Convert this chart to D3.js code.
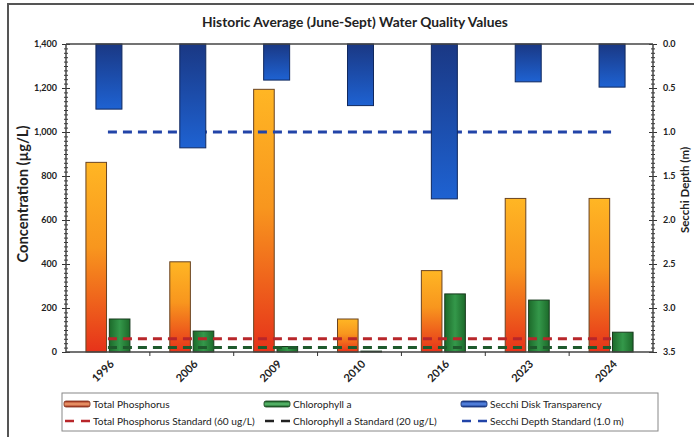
<!DOCTYPE html>
<html>
<head>
<meta charset="utf-8">
<script src="https://cdn.jsdelivr.net/npm/d3@7"></script>
<style>
  html, body { margin: 0; padding: 0; background: #fff; }
  svg { display: block; font-family: Lato, "Open Sans", sans-serif; }
</style>
</head>
<body>
<svg id="chart" width="694" height="437"></svg>
<script>
// ---- data ----
const categories = ["1996", "2006", "2009", "2010", "2016", "2023", "2024"];
const totalPhosphorus = [862, 410, 1194, 150, 370, 698, 698];   // µg/L
const chlorophyllA = [150, 95, 25, 4, 264, 236, 90];            // µg/L
const secchiDepth = [0.74, 1.18, 0.41, 0.70, 1.76, 0.43, 0.49];  // m
const tpStandard = 60;
const chlStandard = 20;
const secchiStandard = 1.0;
const leftTicks = [0, 200, 400, 600, 800, 1000, 1200, 1400];
const rightTicks = [0, 0.5, 1.0, 1.5, 2.0, 2.5, 3.0, 3.5];
const titleText = "Historic Average (June-Sept) Water Quality Values";
const leftTitle = "Concentration (\u00b5g/L)";
const rightTitle = "Secchi Depth (m)";
const legendRow1 = ["Total Phosphorus", "Chlorophyll a", "Secchi Disk Transparency"];
const legendRow2 = ["Total Phosphorus Standard (60 ug/L)", "Chlorophyll a Standard (20 ug/L)", "Secchi Depth Standard (1.0 m)"];

// ---- layout ----
const svg = d3.select("#chart");
const P = { left: 66, right: 653, top: 44, bottom: 352 };

const x = d3.scaleBand().domain(categories).range([P.left, P.right]).padding(0);
const yL = d3.scaleLinear().domain([0, 1400]).range([P.bottom, P.top]);
const yR = d3.scaleLinear().domain([0, 3.5]).range([P.top, P.bottom]);
const sub = d3.scaleBand().domain(["tp", "chl"]).range([-22, 22]).paddingInner(0.12);
const secW = x.bandwidth() * 0.31;

// ---- defs ----
const defs = svg.append("defs");
function grad(id, vertical, stops) {
  const g = defs.append("linearGradient").attr("id", id)
    .attr("x1", 0).attr("y1", 0).attr("x2", vertical ? 0 : 1).attr("y2", vertical ? 1 : 0);
  stops.forEach(s => g.append("stop").attr("offset", s[0]).attr("stop-color", s[1]));
}
grad("tpGrad", true, [[0, "#FFB624"], [0.45, "#F8961E"], [1, "#E6321A"]]);
grad("chlGrad", false, [[0, "#1C6A2A"], [0.5, "#34984A"], [1, "#1C6A2A"]]);
grad("secGrad", true, [[0, "#1A3884"], [1, "#1E62D2"]]);
grad("tpSw", true, [[0, "#A0301C"], [0.5, "#F2A070"], [1, "#A0301C"]]);
grad("chlSw", true, [[0, "#1A5A24"], [0.5, "#5CC070"], [1, "#1A5A24"]]);
grad("secSw", true, [[0, "#183A8A"], [0.5, "#5A8AE8"], [1, "#183A8A"]]);

// outer chart frame
svg.append("rect").attr("x", 8).attr("y", 4).attr("width", 720).attr("height", 460)
  .attr("fill", "none").attr("stroke", "#555").attr("stroke-width", 2);

function fit(sel, target) {
  const len = sel.node().getComputedTextLength();
  const fs = parseFloat(sel.attr("font-size"));
  sel.attr("font-size", (fs * target / len).toFixed(2));
  return fs * target / len;
}

// title
const t = svg.append("text").attr("x", 355).attr("y", 27).attr("text-anchor", "middle")
  .attr("font-size", 13).attr("font-weight", "bold").attr("fill", "#222").text(titleText);
fit(t, 306);

// ---- primary bars ----
const gBars = svg.append("g");
gBars.selectAll("rect.tp").data(categories).join("rect")
  .attr("x", (d) => x(d) + x.bandwidth() / 2 + sub("tp"))
  .attr("width", sub.bandwidth())
  .attr("y", (d, i) => yL(totalPhosphorus[i]))
  .attr("height", (d, i) => yL(0) - yL(totalPhosphorus[i]))
  .attr("fill", "url(#tpGrad)").attr("stroke", "#6A4422").attr("stroke-width", 1);
gBars.selectAll("rect.chl").data(categories).join("rect")
  .attr("x", (d) => x(d) + x.bandwidth() / 2 + sub("chl"))
  .attr("width", sub.bandwidth())
  .attr("y", (d, i) => yL(chlorophyllA[i]))
  .attr("height", (d, i) => yL(0) - yL(chlorophyllA[i]))
  .attr("fill", "url(#chlGrad)").attr("stroke", "#173A1C").attr("stroke-width", 1);

// ---- standard lines ----
const line = d3.line().x(d => d[0]).y(d => d[1]);
function stdLine(val, scale, color) {
  svg.append("path")
    .attr("d", line(categories.map(c => [x(c) + x.bandwidth() / 2, scale(val)])))
    .attr("fill", "none").attr("stroke", color).attr("stroke-width", 3)
    .attr("stroke-dasharray", "9,6");
}
stdLine(tpStandard, yL, "#B8262A");
stdLine(chlStandard, yL, "#1E5A2C");
stdLine(secchiStandard, yR, "#2244A8");

// ---- secondary bars (Secchi) ----
svg.append("g").selectAll("rect").data(categories).join("rect")
  .attr("x", d => x(d) + x.bandwidth() / 2 - secW / 2 + 1)
  .attr("width", secW)
  .attr("y", yR(0))
  .attr("height", (d, i) => yR(secchiDepth[i]) - yR(0))
  .attr("fill", "url(#secGrad)").attr("stroke", "#10285E").attr("stroke-width", 1);

// ---- axes ----
const axisColor = "#333";
function styleAxis(g) {
  g.select(".domain").remove();
  g.selectAll(".tick line").attr("stroke", axisColor);
  g.selectAll(".tick text").attr("fill", "#222").attr("font-weight", "bold")
    .attr("font-size", 9).attr("font-family", "Lato, sans-serif");
}
const minorL = d3.range(0, 1401, 20);
const minorR = d3.range(0, 3.501, 0.05);

// left axis
svg.append("g").attr("transform", `translate(${P.left},0)`)
  .call(d3.axisLeft(yL).tickValues(minorL).tickSize(2).tickFormat(""))
  .call(styleAxis);
svg.append("g").attr("transform", `translate(${P.left},0)`)
  .call(d3.axisRight(yL).tickValues(minorL).tickSize(2).tickFormat(""))
  .call(styleAxis);
svg.append("g").attr("transform", `translate(${P.left},0)`)
  .call(d3.axisRight(yL).tickValues(leftTicks).tickSize(4).tickFormat(""))
  .call(styleAxis);
svg.append("g").attr("transform", `translate(${P.left},0)`)
  .call(d3.axisLeft(yL).tickValues(leftTicks).tickSize(4).tickPadding(5).tickFormat(d3.format(",")))
  .call(styleAxis);

// right axis
svg.append("g").attr("transform", `translate(${P.right},0)`)
  .call(d3.axisLeft(yR).tickValues(minorR).tickSize(2).tickFormat(""))
  .call(styleAxis);
svg.append("g").attr("transform", `translate(${P.right},0)`)
  .call(d3.axisRight(yR).tickValues(minorR).tickSize(2).tickFormat(""))
  .call(styleAxis);
svg.append("g").attr("transform", `translate(${P.right},0)`)
  .call(d3.axisLeft(yR).tickValues(rightTicks).tickSize(4).tickFormat(""))
  .call(styleAxis);
svg.append("g").attr("transform", `translate(${P.right},0)`)
  .call(d3.axisRight(yR).tickValues(rightTicks).tickSize(4).tickPadding(6).tickFormat(d3.format(".1f")))
  .call(styleAxis);

// frame lines of plot area
svg.append("line").attr("x1", P.left).attr("x2", P.right).attr("y1", P.top).attr("y2", P.top)
  .attr("stroke", "#444").attr("stroke-width", 1.5);
svg.append("line").attr("x1", P.left).attr("x2", P.left).attr("y1", P.top).attr("y2", P.bottom)
  .attr("stroke", "#444").attr("stroke-width", 1.5);
svg.append("line").attr("x1", P.right).attr("x2", P.right).attr("y1", P.top).attr("y2", P.bottom)
  .attr("stroke", "#444").attr("stroke-width", 1.5);

// x axis
const xb = svg.append("g").attr("transform", `translate(0,${P.bottom})`);
xb.append("line").attr("x1", P.left).attr("x2", P.right).attr("stroke", "#444").attr("stroke-width", 1.5);
xb.selectAll("line.tk").data(categories.slice(1)).join("line")
  .attr("x1", d => x(d)).attr("x2", d => x(d)).attr("y1", 0).attr("y2", 4).attr("stroke", axisColor);
xb.selectAll("text").data(categories).join("text")
  .attr("transform", d => `translate(${x(d) + x.bandwidth() / 2 + 4},${10}) rotate(-45)`)
  .attr("text-anchor", "end").attr("dy", "0.35em")
  .attr("font-size", 11).attr("font-weight", "bold").attr("fill", "#222")
  .text(d => d);

// axis titles
const lt = svg.append("text").attr("transform", "translate(28,194) rotate(-90)")
  .attr("text-anchor", "middle").attr("font-size", 13).attr("font-weight", "bold")
  .attr("fill", "#222").text(leftTitle);
fit(lt, 137);
svg.append("text").attr("transform", "translate(689,190) rotate(-90)")
  .attr("text-anchor", "middle").attr("font-size", 11.5).attr("font-weight", "bold")
  .attr("fill", "#222").text(rightTitle);

// ---- legend ----
const lg = svg.append("g");
lg.append("rect").attr("x", 62).attr("y", 393).attr("width", 596).attr("height", 38)
  .attr("fill", "#fff").attr("stroke", "#888").attr("stroke-width", 1);
const colX = [64, 264, 461];
const swFill = ["url(#tpSw)", "url(#chlSw)", "url(#secSw)"];
const swStroke = ["#7A2A14", "#123A18", "#102A6A"];
const dashColor = ["#B8262A", "#222", "#2244A8"];
lg.selectAll("rect.sw").data(legendRow1).join("rect")
  .attr("x", (d, i) => colX[i]).attr("y", 401).attr("width", 26).attr("height", 6).attr("rx", 2)
  .attr("fill", (d, i) => swFill[i]).attr("stroke", (d, i) => swStroke[i]).attr("stroke-width", 0.8);
lg.selectAll("line.dl").data(legendRow2).join("line")
  .attr("x1", (d, i) => colX[i] + 1).attr("x2", (d, i) => colX[i] + 26)
  .attr("y1", 421).attr("y2", 421)
  .attr("stroke", (d, i) => dashColor[i]).attr("stroke-width", 2.5).attr("stroke-dasharray", "9,7");
const r2 = lg.selectAll("text.r2").data(legendRow2).join("text")
  .attr("x", (d, i) => colX[i] + 29).attr("y", 424.5)
  .attr("font-size", 9).attr("fill", "#222").text(d => d);
const lfs = fit(d3.select(r2.nodes()[0]), 162);
r2.attr("font-size", lfs);
lg.selectAll("text.r1").data(legendRow1).join("text")
  .attr("x", (d, i) => colX[i] + 29).attr("y", 407.5)
  .attr("font-size", lfs).attr("fill", "#222").text(d => d);
</script>
</body>
</html>
